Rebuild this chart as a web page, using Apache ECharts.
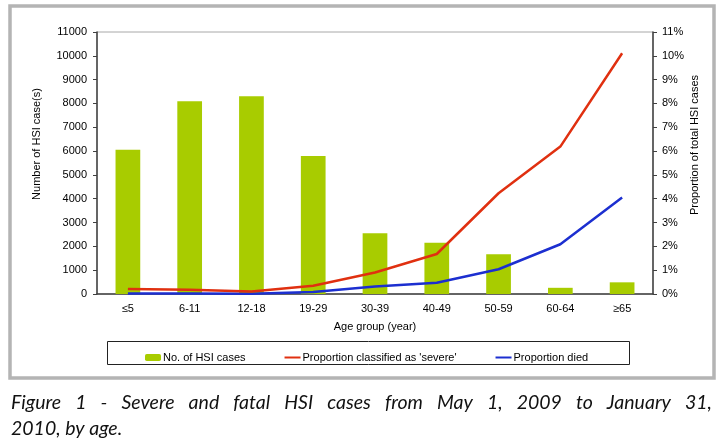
<!DOCTYPE html>
<html><head><meta charset="utf-8">
<script src="https://cdn.jsdelivr.net/npm/echarts@6/dist/echarts.min.js"></script>
<style>html,body{margin:0;padding:0;background:#fff;}#c{width:723px;height:446px;}</style>
</head><body><div id="c"></div>
<script>
const categories = ['≤5','6-11','12-18','19-29','30-39','40-49','50-59','60-64','≥65'];
const hsiCases = [6060, 8090, 8300, 5790, 2550, 2150, 1670, 260, 490];
const severePct = [0.21, 0.18, 0.10, 0.35, 0.90, 1.68, 4.23, 6.19, 10.11];
const diedPct = [0.02, 0.02, 0.01, 0.08, 0.31, 0.47, 1.04, 2.09, 4.05];
const seriesNames = ['No. of HSI cases', "Proportion classified as 'severe'", 'Proportion died'];
const captionLines = ['Figure 1 - Severe and fatal HSI cases from May 1, 2009 to January 31,', '2010, by age.'];

const capFont = 'italic 19.5px Lato';
// justify the first caption line across the frame width
const cv = document.createElement('canvas').getContext('2d');
cv.font = capFont;
const words = captionLines[0].split(' ');
const lineLeft = 11, lineRight = 712;
const widths = words.map(w => cv.measureText(w).width);
const sumW = widths.reduce((a,b)=>a+b,0);
const gap = (lineRight - lineLeft - sumW) / (words.length - 1);
const captionGraphics = [];
let cx = lineLeft;
words.forEach((w,i) => {
  captionGraphics.push({type:'text', x:cx, y:403, style:{text:w, fill:'#111', font:capFont, verticalAlign:'middle'}});
  cx += widths[i] + gap;
});
captionGraphics.push({type:'text', x:lineLeft, y:429, style:{text:captionLines[1], fill:'#111', font:capFont, verticalAlign:'middle'}});

const chart = echarts.init(document.getElementById('c'), null, {renderer:'canvas'});
const axisTxt = {color:'#000', fontFamily:'Liberation Sans, Arial', fontSize:11};
chart.setOption({
  animation:false,
  backgroundColor:'#fff',
  grid:{left:97, right:70, top:32, bottom:152, show:true, borderColor:'#a8a8a8', borderWidth:1, backgroundColor:'transparent'},
  legend:{
    left:140, top:347, itemGap:38, itemWidth:16, itemHeight:7,
    textStyle:{color:'#000', fontFamily:'Liberation Sans, Arial', fontSize:11, padding:[0,0,0,-3]},
    data:[
      {name:seriesNames[0]},
      {name:seriesNames[1], itemStyle:{opacity:0}},
      {name:seriesNames[2], itemStyle:{opacity:0}}
    ]
  },
  xAxis:{
    type:'category', data:categories,
    axisLine:{lineStyle:{color:'#404040', width:1.5}},
    axisTick:{length:4, lineStyle:{color:'#404040'}},
    axisLabel:Object.assign({margin:9}, axisTxt),
    name:'Age group (year)', nameLocation:'middle', nameGap:27,
    nameTextStyle:axisTxt
  },
  yAxis:[{
    type:'value', min:0, max:11000, interval:1000,
    axisLine:{show:true, lineStyle:{color:'#404040', width:1.5}},
    axisTick:{show:true, length:4, lineStyle:{color:'#404040'}},
    axisLabel:Object.assign({margin:10, formatter:v => String(v)}, axisTxt),
    splitLine:{show:false}
  },{
    type:'value', min:0, max:11, interval:1, position:'right',
    axisLine:{show:true, lineStyle:{color:'#404040', width:1.5}},
    axisTick:{show:true, length:4, lineStyle:{color:'#404040'}},
    axisLabel:Object.assign({margin:9, formatter:'{value}%'}, axisTxt),
    splitLine:{show:false}
  }],
  series:[{
    name:seriesNames[0], type:'bar', data:hsiCases, barWidth:'40%',
    itemStyle:{color:'#a8cc00'}, yAxisIndex:0
  },{
    name:seriesNames[1], type:'line', data:severePct, yAxisIndex:1,
    symbol:'none', lineStyle:{color:'#e03010', width:2.5}, itemStyle:{color:'#e03010'}, z:4
  },{
    name:seriesNames[2], type:'line', data:diedPct, yAxisIndex:1,
    symbol:'none', lineStyle:{color:'#1c2fd0', width:2.5}, itemStyle:{color:'#1c2fd0'}, z:3
  }],
  graphic:[
    {type:'rect', shape:{x:10, y:6, width:704, height:372}, style:{fill:'none', stroke:'#b4b4b4', lineWidth:3.5}, silent:true},
    {type:'rect', shape:{x:107.5, y:341.5, width:522, height:23}, style:{fill:'none', stroke:'#222', lineWidth:1}, silent:true},
    {type:'text', x:37, y:144, rotation:Math.PI/2, style:{text:'Number of HSI case(s)', fill:'#000', font:'11px Liberation Sans, Arial', align:'center', verticalAlign:'middle'}},
    {type:'text', x:695, y:145, rotation:Math.PI/2, style:{text:'Proportion of total HSI cases', fill:'#000', font:'11px Liberation Sans, Arial', align:'center', verticalAlign:'middle'}}
  ].concat(captionGraphics)
});
</script></body></html>
